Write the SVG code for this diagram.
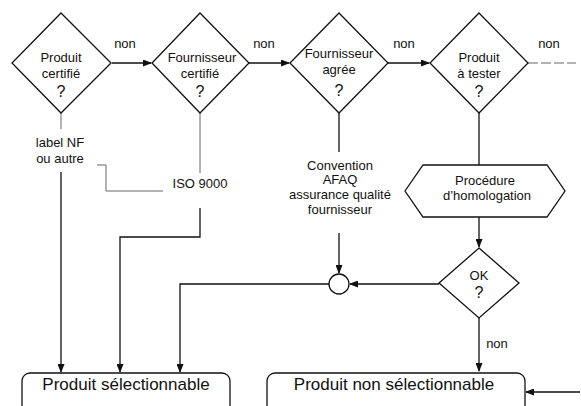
<svg xmlns="http://www.w3.org/2000/svg" width="581" height="406" viewBox="0 0 581 406">
<style>
.s{fill:none;stroke:#111;stroke-width:1.3}
.f{fill:none;stroke:#666;stroke-width:1}
.t{font-family:"Liberation Sans",Arial,sans-serif;font-size:13px;fill:#111;text-anchor:middle}
.q{font-size:16px}
.b{font-size:17px}
</style>
<defs>
<marker id="ah" markerWidth="9" markerHeight="7" refX="8" refY="3.5" orient="auto" markerUnits="userSpaceOnUse">
<path d="M0,0 L9,3.5 L0,7 Z" fill="#111"/>
</marker>
</defs>
<rect width="581" height="406" fill="#fff"/>
<g id="connectors">
<line class="s" x1="112" y1="63" x2="151" y2="63" marker-end="url(#ah)"/>
<line class="s" x1="249" y1="63" x2="289" y2="63" marker-end="url(#ah)"/>
<line class="s" x1="388" y1="63" x2="429" y2="63" marker-end="url(#ah)"/>
<line class="f" x1="528" y1="63" x2="576" y2="63" stroke-dasharray="10 3"/>
<line class="f" x1="61" y1="113" x2="61" y2="129"/>
<line class="s" x1="61" y1="172" x2="61" y2="372" marker-end="url(#ah)"/>
<polyline class="f" points="97,165 106,165 106,191 163,191"/>
<line class="f" x1="200" y1="113" x2="200" y2="173"/>
<polyline class="s" points="200,208 200,237 120,237 120,372" marker-end="url(#ah)"/>
<line class="s" x1="339" y1="113" x2="339" y2="152"/>
<line class="s" x1="339" y1="233" x2="339" y2="273" marker-end="url(#ah)"/>
<polyline class="s" points="329,284 180,284 180,372" marker-end="url(#ah)"/>
<line class="s" x1="479" y1="113" x2="479" y2="165"/>
<line class="s" x1="479" y1="217" x2="479" y2="247" marker-end="url(#ah)"/>
<line class="s" x1="439" y1="284" x2="350" y2="284" marker-end="url(#ah)"/>
<line class="s" x1="479" y1="318" x2="479" y2="371" marker-end="url(#ah)"/>
<line class="s" x1="580" y1="392" x2="526" y2="392" marker-end="url(#ah)"/>
<text class="t" x="125" y="48">non</text>
<text class="t" x="264" y="48">non</text>
<text class="t" x="404" y="48">non</text>
<text class="t" x="549" y="48">non</text>
<text class="t" x="497" y="348">non</text>
<text class="t" x="60" y="147">label NF</text>
<text class="t" x="60" y="163">ou autre</text>
<text class="t" x="200" y="188">ISO 9000</text>
<text class="t" x="340" y="170">Convention</text>
<text class="t" x="340" y="184">AFAQ</text>
<text class="t" x="340" y="199">assurance qualité</text>
<text class="t" x="340" y="214">fournisseur</text>
</g>
<g id="d1">
<polygon class="s" points="61,13 111,63 61,113 12,63"/>
<text class="t" x="61" y="62">Produit</text>
<text class="t" x="61" y="78">certifié</text>
<text class="t q" x="61" y="97">?</text>
</g>
<g id="d2">
<polygon class="s" points="200,13 249,63 200,113 152,63"/>
<text class="t" x="202" y="62">Fournisseur</text>
<text class="t" x="200" y="78">certifié</text>
<text class="t q" x="200" y="97">?</text>
</g>
<g id="d3">
<polygon class="s" points="339,13 388,63 339,113 290,63"/>
<text class="t" x="339" y="58">Fournisseur</text>
<text class="t" x="339" y="74">agrée</text>
<text class="t q" x="339" y="96">?</text>
</g>
<g id="d4">
<polygon class="s" points="479,13 528,63 479,113 430,63"/>
<text class="t" x="479" y="62">Produit</text>
<text class="t" x="479" y="78">à tester</text>
<text class="t q" x="479" y="97">?</text>
</g>
<g id="hex">
<polygon class="s" points="405,191 423,165 547,165 565,191 547,217 423,217"/>
<text class="t" x="485" y="185">Procédure</text>
<text class="t" x="487" y="200">d’homologation</text>
</g>
<g id="ok">
<polygon class="s" points="479,248 519,283 479,318 439,283"/>
<text class="t" x="479" y="280">OK</text>
<text class="t q" x="479" y="298">?</text>
</g>
<g id="merge">
<circle class="s" cx="339" cy="284" r="10"/>
</g>
<g id="sel">
<rect class="s" x="22" y="373" width="208" height="45" rx="8"/>
<text class="t b" x="126" y="390">Produit sélectionnable</text>
</g>
<g id="nonsel">
<rect class="s" x="267" y="373" width="258" height="45" rx="8"/>
<text class="t b" x="394" y="390">Produit non sélectionnable</text>
</g>
</svg>
